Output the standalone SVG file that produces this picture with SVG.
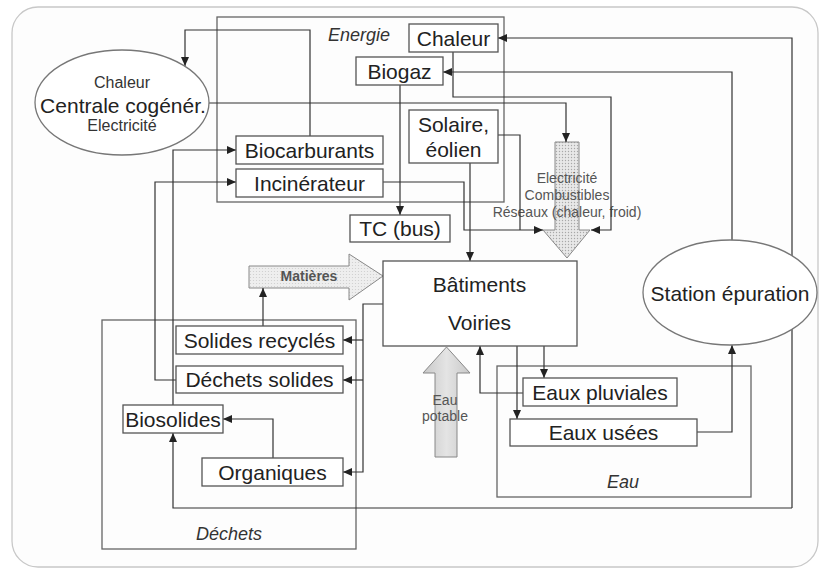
<svg xmlns="http://www.w3.org/2000/svg" width="825" height="570" viewBox="0 0 825 570">
<style>
.box{fill:#fff;stroke:#555;stroke-width:1.3}
.ell{fill:#fff;stroke:#777;stroke-width:1.3}
.grp{fill:none;stroke:#666;stroke-width:1.3}
.c{fill:none;stroke:#333;stroke-width:1.2}
.a{marker-end:url(#ah)}
.t{font-family:"Liberation Sans",Arial,sans-serif;font-size:21px;fill:#222;text-anchor:middle}
.s{font-size:16px;fill:#333}
.i{font-family:"Liberation Sans",Arial,sans-serif;font-size:18px;font-style:italic;fill:#333}
.f{font-family:"Liberation Sans",Arial,sans-serif;font-size:14px;fill:#555;text-anchor:middle}
</style>
<defs>
<marker id="ah" markerUnits="userSpaceOnUse" markerWidth="9" markerHeight="8" refX="9" refY="4" orient="auto">
<path d="M0,0 L9,4 L0,8 z" fill="#222"/>
</marker>
<pattern id="dots" width="3" height="3" patternUnits="userSpaceOnUse">
<rect width="3" height="3" fill="#e8e8e8"/>
<circle cx="1.5" cy="1.5" r="0.7" fill="#a8a8a8"/>
</pattern>
<pattern id="dots2" width="3" height="3" patternUnits="userSpaceOnUse">
<rect width="3" height="3" fill="#eeeeee"/>
<circle cx="1.5" cy="1.5" r="0.6" fill="#cccccc"/>
</pattern>
<linearGradient id="gw" x1="0" y1="0" x2="1" y2="0">
<stop offset="0" stop-color="#c8c8c8"/>
<stop offset="0.5" stop-color="#e4e4e4"/>
<stop offset="1" stop-color="#c8c8c8"/>
</linearGradient>
</defs>
<rect x="0" y="0" width="825" height="570" fill="#fff"/>
<rect x="12" y="7" width="806" height="560" rx="26" fill="#fdfdfd" stroke="#c8c8c8" stroke-width="1.3"/>

<g id="groups">
<g id="grp-energie"><rect class="grp" x="217" y="17" width="287" height="185"/><text class="i" x="328" y="41">Energie</text></g>
<g id="grp-dechets"><rect class="grp" x="102" y="320" width="254" height="229"/><text class="i" x="229" y="540" text-anchor="middle">Déchets</text></g>
<g id="grp-eau"><rect class="grp" x="497" y="366" width="254" height="131"/><text class="i" x="623" y="488" text-anchor="middle">Eau</text></g>
</g>

<g id="flows">
<g id="flow-electricite"><polygon points="555,142 579,142 579,230 590,230 567,258 543,230 555,230" fill="url(#dots)" stroke="#888" stroke-width="1"/>
<text class="f" x="567" y="183">Electricité</text><text class="f" x="567" y="200">Combustibles</text><text class="f" x="567" y="217">Réseaux (chaleur, froid)</text></g>
<g id="flow-matieres"><polygon points="249,266 349,266 349,254 383,276 349,300 349,288 249,288" fill="url(#dots2)" stroke="#888" stroke-width="1"/>
<text class="f" x="309" y="281" font-weight="bold" fill="#555">Matières</text></g>
<g id="flow-eau"><polygon points="435,457 435,373 423,373 446.5,347 470,373 457,373 457,457" fill="url(#gw)" stroke="#888" stroke-width="1"/>
<text class="f" x="445" y="405" font-size="13" fill="#555">Eau</text><text class="f" x="445" y="421" font-size="13" fill="#555">potable</text></g>
</g>

<g id="connectors">
<path class="c a" d="M310,136 V30 H185 V66"/>
<path class="c a" d="M209,103 H566 V142"/>
<path class="c a" d="M453,52 V97 H611 V230 H591"/>
<path class="c a" d="M400,85 V215"/>
<path class="c" d="M498,135 H520 V230"/>
<path class="c a" d="M383,182 H464 V230 H543"/>
<path class="c a" d="M470,163 V261"/>
<path class="c a" d="M732,240 V72 H443"/>
<path class="c a" d="M792,508 V38 H498"/>
<path class="c a" d="M792,508 H173 V433"/>
<path class="c a" d="M383,304 H363 V472 H343"/>
<path class="c a" d="M363,340 H343"/>
<path class="c a" d="M363,380 H343"/>
<path class="c a" d="M263,326 V288"/>
<path class="c a" d="M273,458 V419 H223"/>
<path class="c a" d="M176,380 H155 V182 H236"/>
<path class="c a" d="M173,405 V150 H236"/>
<path class="c a" d="M544,346 V378"/>
<path class="c a" d="M517,346 V419"/>
<path class="c a" d="M523,393 H480 V346"/>
<path class="c a" d="M697,432 H732 V345"/>
</g>

<g id="centrale"><ellipse class="ell" cx="122" cy="102.5" rx="87" ry="52.5"/>
<text class="t s" x="122" y="88">Chaleur</text><text class="t" x="123" y="112.5">Centrale cogénér.</text><text class="t s" x="122" y="131">Electricité</text></g>
<g id="station"><ellipse class="ell" cx="730" cy="292.5" rx="87" ry="52.5"/><text class="t" x="730" y="301">Station épuration</text></g>
<g id="chaleur"><rect class="box" x="409" y="24" width="89" height="28"/><text class="t" x="453.5" y="45.5">Chaleur</text></g>
<g id="biogaz"><rect class="box" x="356" y="57" width="87" height="28"/><text class="t" x="399.5" y="78.5">Biogaz</text></g>
<g id="solaire"><rect class="box" x="409" y="110" width="89" height="53"/><text class="t" x="453.5" y="132">Solaire,</text><text class="t" x="453.5" y="157">éolien</text></g>
<g id="biocarburants"><rect class="box" x="236" y="136" width="147" height="28"/><text class="t" x="309.5" y="157.5">Biocarburants</text></g>
<g id="incinerateur"><rect class="box" x="236" y="169" width="147" height="28"/><text class="t" x="309.5" y="190.5">Incinérateur</text></g>
<g id="tc"><rect class="box" x="350" y="215" width="100" height="27"/><text class="t" x="400" y="236">TC (bus)</text></g>
<g id="batiments"><rect class="box" x="383" y="261" width="194" height="85"/><text class="t" x="479.5" y="292">Bâtiments</text><text class="t" x="479.5" y="330">Voiries</text></g>
<g id="solides-recycles"><rect class="box" x="176" y="326" width="167" height="28"/><text class="t" x="259.5" y="347.5">Solides recyclés</text></g>
<g id="dechets-solides"><rect class="box" x="176" y="366" width="167" height="27"/><text class="t" x="259.5" y="387">Déchets solides</text></g>
<g id="biosolides"><rect class="box" x="123" y="405" width="100" height="28"/><text class="t" x="173" y="426.5">Biosolides</text></g>
<g id="organiques"><rect class="box" x="202" y="458" width="141" height="28"/><text class="t" x="272.5" y="479.5">Organiques</text></g>
<g id="eaux-pluviales"><rect class="box" x="523" y="378" width="154" height="28"/><text class="t" x="600" y="399.5">Eaux pluviales</text></g>
<g id="eaux-usees"><rect class="box" x="510" y="419" width="187" height="27"/><text class="t" x="603.5" y="440">Eaux usées</text></g>
</svg>
